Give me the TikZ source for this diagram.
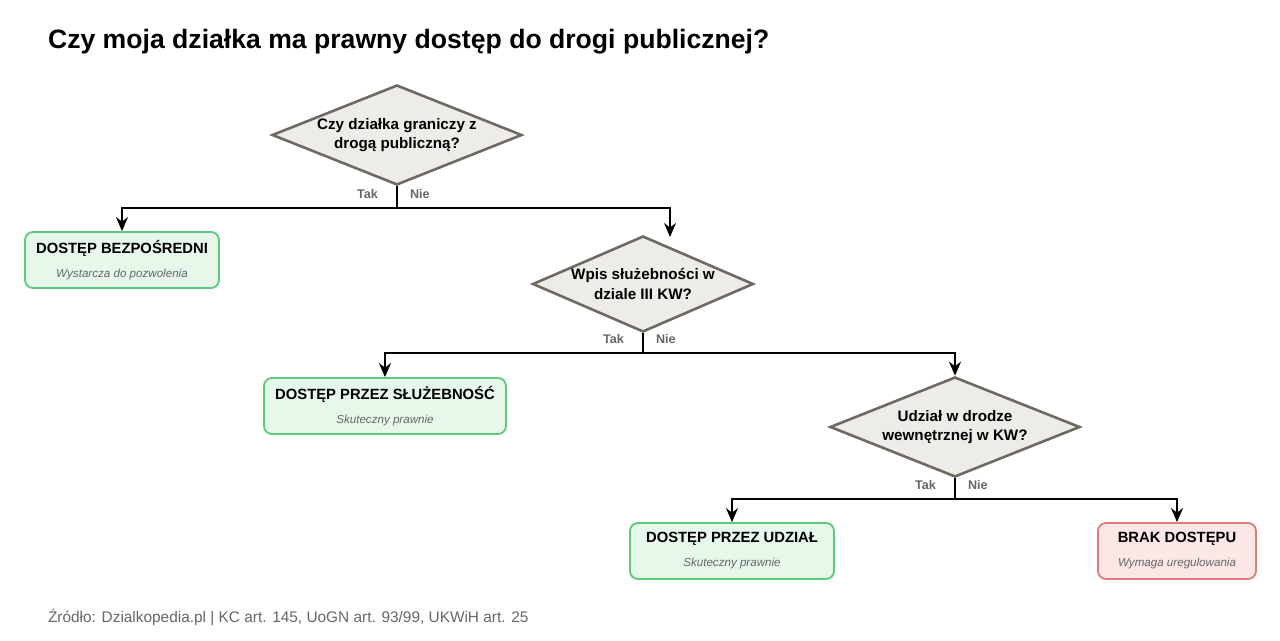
\documentclass[tikz,border=0pt]{standalone}
\usepackage{fontspec}
\setmainfont{Liberation Sans}
\usetikzlibrary{ % tikz packages
    shapes.geometric,positioning,
    arrows.meta
}
\definecolor{okfill}{HTML}{E6F8EA}
\definecolor{okline}{HTML}{5CC97B}
\definecolor{nofill}{HTML}{FCE6E6}
\definecolor{noline}{HTML}{E07B7B}
\definecolor{qfill}{HTML}{EDECE6}
\definecolor{qline}{HTML}{6E6A63}
\definecolor{subgray}{HTML}{666666}
\tikzset{
    question/.style={diamond,draw=qline,fill=qfill,line width=1.3pt,
        inner sep=0pt,minimum width=125pt,minimum height=50pt,aspect=2.5,
        align=center,font=\fontsize{7.6}{9.8}\selectfont\bfseries},
    answer/.style={rectangle,rounded corners=4pt,draw=okline,fill=okfill,
        line width=0.9pt,minimum height=28pt,align=center},
    noanswer/.style={answer,draw=noline,fill=nofill},
    yesno/.style={font=\fontsize{6.3}{7}\selectfont\bfseries,text=subgray},
    flow/.style={line width=0.9pt,-{Stealth[length=7pt,width=6pt]}}
}
\newcommand{\boxtext}[2]{{\fontsize{7.4}{9}\selectfont\bfseries #1}\\[0pt]{\fontsize{5.8}{7}\selectfont\itshape\color{subgray}#2}}

\begin{document}
\begin{tikzpicture}[x=0.5pt,y=-0.5pt]
        \useasboundingbox (0,0) rectangle (1280,641);
        \node[anchor=west,font=\fontsize{13.3}{15}\selectfont\bfseries] (title) at (41,42)
            {Czy moja działka ma prawny dostęp do drogi publicznej?};

        \node[question] (d1) at (397,135) {Czy działka graniczy z\\drogą publiczną?};
        \node[answer,minimum width=97pt] (b1) at (122,260)
            {\boxtext{DOSTĘP BEZPOŚREDNI}{Wystarcza do pozwolenia}};
        \node[question,minimum width=99pt,minimum height=48pt] (d2) at (643,284) {Wpis służebności w\\dziale III KW?};
        \node[answer,minimum width=121pt] (b2) at (385,406)
            {\boxtext{DOSTĘP PRZEZ SŁUŻEBNOŚĆ}{Skuteczny prawnie}};
        \node[question] (d3) at (955,427) {Udział w drodze\\wewnętrznej w KW?};
        \node[answer,minimum width=102pt] (b3) at (732,551)
            {\boxtext{DOSTĘP PRZEZ UDZIAŁ}{Skuteczny prawnie}};
        \node[noanswer,minimum width=79pt] (b4) at (1177,551)
            {\boxtext{BRAK DOSTĘPU}{Wymaga uregulowania}};

        \coordinate (j1) at (397,208);
        \coordinate (e1) at (670,237);
        \coordinate (j2) at (643,353);
        \coordinate (j3) at (955,499);

        \draw[line width=0.9pt] (d1.south) -- (j1);
        \draw[flow] (j1) -| (b1.north);
        \draw[flow] (j1) -| (e1);
        \draw[line width=0.9pt] (d2.south) -- (j2);
        \draw[flow] (j2) -| (b2.north);
        \draw[flow] (j2) -| (d3.north);
        \draw[line width=0.9pt] (d3.south) -- (j3);
        \draw[flow] (j3) -| (b3.north);
        \draw[flow] (j3) -| (b4.north);

        \node[yesno,anchor=east] (t1) at (385,194) {Tak};
        \node[yesno,anchor=west] (n1) at (403,194) {Nie};
        \node[yesno,anchor=east] (t2) at (631,339) {Tak};
        \node[yesno,anchor=west] (n2) at (649,339) {Nie};
        \node[yesno,anchor=east] (t3) at (943,485) {Tak};
        \node[yesno,anchor=west] (n3) at (961,485) {Nie};

        \node[anchor=west,font=\fontsize{7.7}{9}\selectfont,text=subgray] (src) at (41,617)
            {Źródło: Dzialkopedia.pl | KC art. 145, UoGN art. 93/99, UKWiH art. 25};
\end{tikzpicture}
\end{document}
